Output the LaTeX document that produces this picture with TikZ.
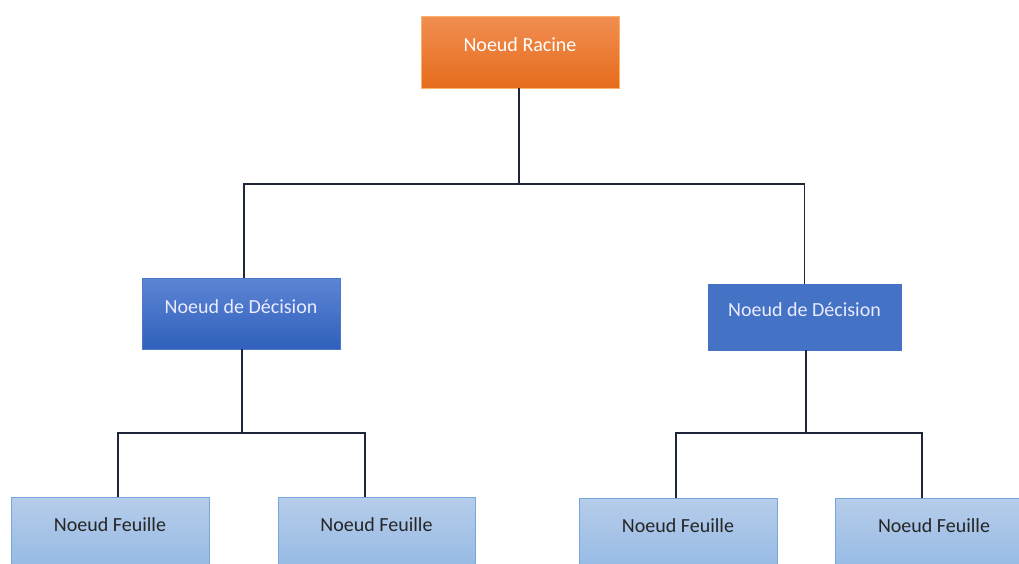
\documentclass[tikz,border=0pt]{standalone}
\usepackage{fontspec}
\setmainfont{Carlito}
\begin{document}
\begin{tikzpicture}[x=1pt,y=-1pt,
  box/.style={rectangle, inner sep=0pt, line width=0.8pt},
  lbl/.style={font=\fontsize{20}{24}\selectfont, inner sep=0pt, yshift=7pt},
  rootbox/.style={box, draw=orange!60!white, top color={rgb,255:red,241;green,142;blue,82}, bottom color={rgb,255:red,230;green,108;blue,28}},
  decbox/.style={box, draw={rgb,255:red,80;green,120;blue,200}, top color={rgb,255:red,92;green,133;blue,212}, bottom color={rgb,255:red,48;green,96;blue,188}},
  decflat/.style={box, draw={rgb,255:red,68;green,114;blue,196}, fill={rgb,255:red,68;green,114;blue,196}},
  leafbox/.style={box, draw={rgb,255:red,120;green,165;blue,220}, top color={rgb,255:red,182;green,205;blue,234}, bottom color={rgb,255:red,150;green,186;blue,228}},
  link/.style={line width=1.3pt, draw={rgb,255:red,30;green,38;blue,60}}
]
\clip (0,0) rectangle (1019,563);
\fill[white] (0,0) rectangle (1019,563);

% tree levels
\coordinate (busTop) at (0,184);
\coordinate (busLow) at (0,433);

% root
\node[rootbox, minimum width=198pt, minimum height=72pt,
  label={[lbl, text=white]center:Noeud Racine}] (root) at (520,52) {};

% decision nodes
\node[decbox, minimum width=198pt, minimum height=71pt,
  label={[lbl, text=white!92!blue]center:Noeud de Décision}] (dl) at (241,313.5) {};
\node[decflat, minimum width=193pt, minimum height=66pt,
  label={[lbl, text=white!92!blue]center:Noeud de Décision}] (dr) at (804.5,317) {};

% leaves
\node[leafbox, minimum width=198pt, minimum height=70pt,
  label={[lbl, text=black!85]center:Noeud Feuille}] (l1) at (110,532) {};
\node[leafbox, minimum width=197pt, minimum height=70pt,
  label={[lbl, text=black!85]center:Noeud Feuille}] (l2) at (376.5,532) {};
\node[leafbox, minimum width=198pt, minimum height=70pt,
  label={[lbl, text=black!85]center:Noeud Feuille}] (l3) at (678,533) {};
\node[leafbox, minimum width=198pt, minimum height=70pt,
  label={[lbl, text=black!85]center:Noeud Feuille}] (l4) at (934,533) {};

% connectors
\draw[link] ([xshift=-1pt]root.south) -- ([xshift=-1pt]root.south |- busTop);
\draw[link] ([xshift=3pt]dl.north) |- ([xshift=-1pt]root.south |- busTop) -| (dr.north);

\draw[link] ([xshift=1pt]dl.south) -- ([xshift=1pt]dl.south |- busLow);
\draw[link] ([xshift=8pt]l1.north) |- ([xshift=1pt]dl.south |- busLow) -| ([xshift=-11.5pt]l2.north);

\draw[link] ([xshift=1.5pt]dr.south) -- ([xshift=1.5pt]dr.south |- busLow);
\draw[link] ([xshift=-2pt]l3.north) |- ([xshift=1.5pt]dr.south |- busLow) -| ([xshift=-12pt]l4.north);
\end{tikzpicture}
\end{document}
